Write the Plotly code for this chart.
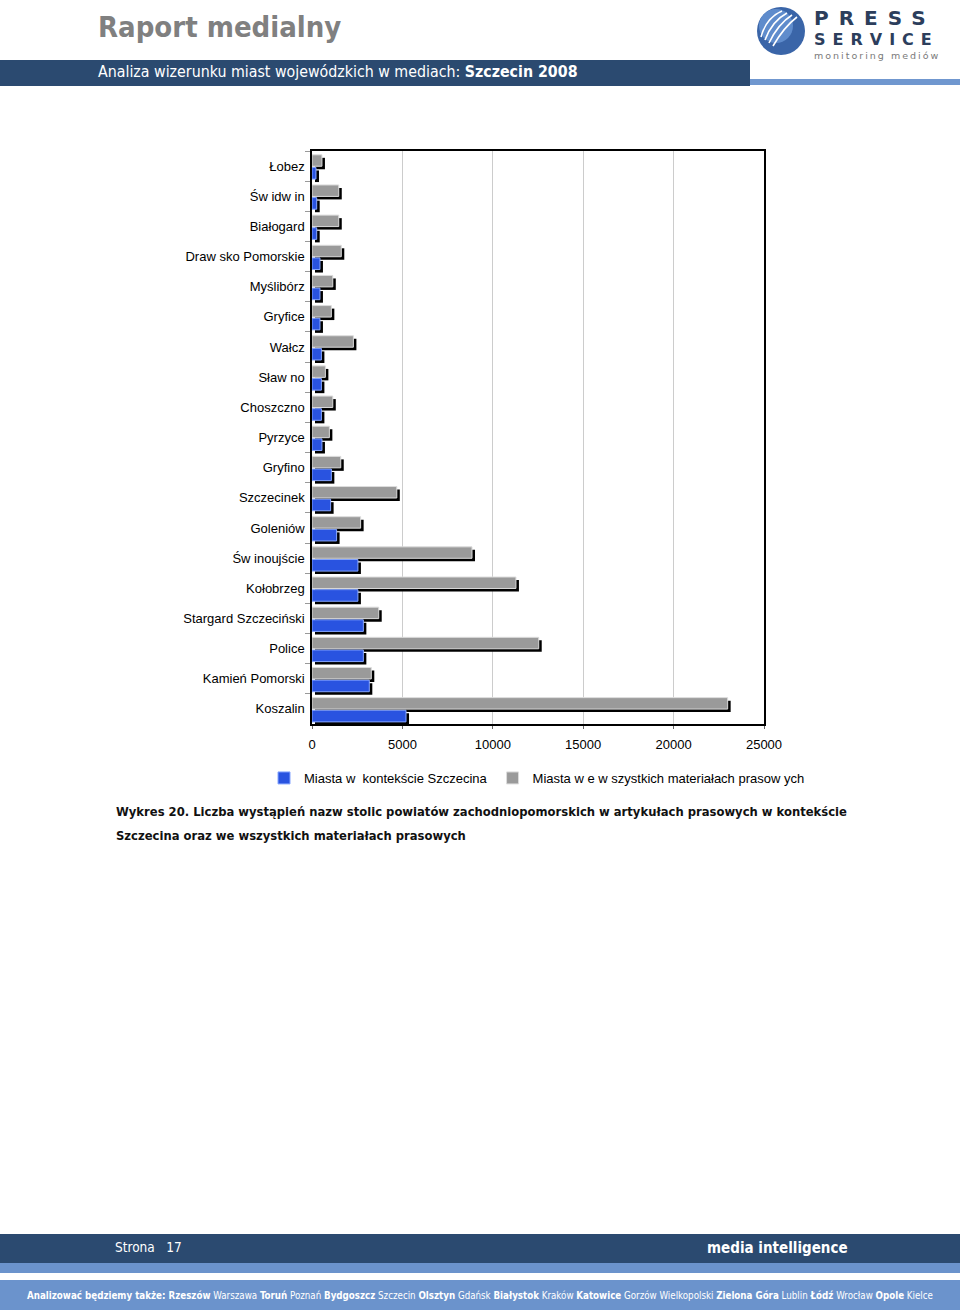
import plotly.graph_objects as go

# ---------------- data ----------------
cities = ["Łobez", "Św idw in", "Białogard", "Draw sko Pomorskie", "Myślibórz", "Gryfice",
          "Wałcz", "Sław no", "Choszczno", "Pyrzyce", "Gryfino", "Szczecinek", "Goleniów",
          "Św inoujście", "Kołobrzeg", "Stargard Szczeciński", "Police", "Kamień Pomorski",
          "Koszalin"]
szczecin_context = [220, 260, 260, 440, 440, 440, 520, 520, 520, 550, 1070, 1030, 1360,
                    2540, 2540, 2840, 2840, 3170, 5200]
all_materials = [550, 1480, 1480, 1620, 1150, 1070, 2290, 740, 1150, 960, 1590, 4690, 2690,
                 8850, 11280, 3690, 12540, 3280, 22990]
x_ticks = [0, 5000, 10000, 15000, 20000, 25000]
series_names = ["Miasta w  kontekście Szczecina", "Miasta w e w szystkich materiałach prasow ych"]

# ---------------- geometry helpers ----------------
W, H = 960, 1314
L, R, T, B = 312, 764, 151, 724
def px(x):
    return (x - L) / (R - L)
def py(y):
    return (B - y) / (B - T)

DARK = "#2b4a70"
LIGHT = "#7097cf"
LIGHT2 = "#6b93cc"
FONT = "Liberation Sans"
COND = "DejaVu Sans Condensed"

BLUE = "#2953e0"
GRAY = "#9a9a9a"

fig = go.Figure()

# shadows (drawn behind, on a slightly shifted hidden axis)
fig.add_trace(go.Bar(y=cities, x=szczecin_context, orientation="h", xaxis="x", yaxis="y",
                     marker=dict(color="black", line=dict(width=0)),
                     offset=0.145, width=0.385, showlegend=False, hoverinfo="skip"))
fig.add_trace(go.Bar(y=cities, x=all_materials, orientation="h", xaxis="x", yaxis="y",
                     marker=dict(color="black", line=dict(width=0)),
                     offset=-0.274, width=0.38, showlegend=False, hoverinfo="skip"))
# front bars
fig.add_trace(go.Bar(y=cities, x=szczecin_context, orientation="h", xaxis="x2", yaxis="y",
                     name=series_names[0],
                     marker=dict(color=BLUE, line=dict(width=1, color="#86a6ff")),
                     offset=0.045, width=0.385))
fig.add_trace(go.Bar(y=cities, x=all_materials, orientation="h", xaxis="x2", yaxis="y",
                     name=series_names[1],
                     marker=dict(color=GRAY, line=dict(width=1, color="#dcdcdc")),
                     offset=-0.374, width=0.38))

shapes = []
# header bars
shapes.append(dict(type="rect", xref="paper", yref="paper", x0=px(0), x1=px(750),
                   y0=py(86), y1=py(60), fillcolor=DARK, line=dict(width=0), layer="below"))
shapes.append(dict(type="rect", xref="paper", yref="paper", x0=px(750), x1=px(960),
                   y0=py(85), y1=py(79), fillcolor=LIGHT, line=dict(width=0), layer="below"))
# footer bars
shapes.append(dict(type="rect", xref="paper", yref="paper", x0=px(0), x1=px(960),
                   y0=py(1263), y1=py(1234), fillcolor=DARK, line=dict(width=0), layer="below"))
shapes.append(dict(type="rect", xref="paper", yref="paper", x0=px(0), x1=px(960),
                   y0=py(1273), y1=py(1263), fillcolor=LIGHT2, line=dict(width=0), layer="below"))
shapes.append(dict(type="rect", xref="paper", yref="paper", x0=px(0), x1=px(960),
                   y0=py(1310), y1=py(1280), fillcolor=LIGHT2, line=dict(width=0), layer="below"))
# logo sphere
cx, cy, rr = 781, 31, 24
shapes.append(dict(type="circle", xref="paper", yref="paper", x0=px(cx - rr), x1=px(cx + rr),
                   y0=py(cy + rr), y1=py(cy - rr), fillcolor="#3a65a8", line=dict(width=0)))
shapes.append(dict(type="circle", xref="paper", yref="paper", x0=px(cx - rr + 2), x1=px(cx + rr - 12),
                   y0=py(cy + rr - 12), y1=py(cy - rr + 2), fillcolor="#5f8ccc", line=dict(width=0)))
for k in range(4):
    x0s, y0s = 761 + 4 * k, 37 + 3 * k
    x1s, y1s = 782 + 5 * k, 11 + 2 * k
    cxs, cys = 766 + 6 * k, 18 + 3 * k
    shapes.append(dict(type="path", xref="paper", yref="paper",
                       path=f"M {px(x0s)},{py(y0s)} Q {px(cxs)},{py(cys)} {px(x1s)},{py(y1s)}",
                       line=dict(color="white", width=1.6)))

annotations = []
def ann(text, x, y, size, color, family=COND, xanchor="left", bold=False, align="left"):
    annotations.append(dict(text=(f"<b>{text}</b>" if bold else text), x=px(x), y=py(y),
                            xref="paper", yref="paper", xanchor=xanchor, yanchor="middle",
                            align=align, showarrow=False,
                            font=dict(size=size, color=color, family=family)))

ann("Raport medialny", 96, 27, 29, "#808080", bold=True)
ann("Analiza wizerunku miast wojewódzkich w mediach: <b>Szczecin 2008</b>", 96, 71, 15.8, "white")
ann("<span style='letter-spacing:10px'>PRESS</span>", 812, 18, 20, "#2c3e5c",
    family="DejaVu Sans", bold=True)
ann("<span style='letter-spacing:7px'>SERVICE</span>", 812, 39.5, 16, "#2c3e5c",
    family="DejaVu Sans", bold=True)
ann("<span style='letter-spacing:2px'>monitoring mediów</span>", 812, 55, 9.5, "#7a7a7a",
    family="DejaVu Sans")

ann("Wykres 20. Liczba wystąpień nazw stolic powiatów zachodniopomorskich w artykułach prasowych w kontekście",
    114, 812, 11.6, "#111111", family="DejaVu Sans", bold=True)
ann("Szczecina oraz we wszystkich materiałach prasowych", 114, 836, 11.6, "#111111",
    family="DejaVu Sans", bold=True)

ann("Strona   17", 113, 1247, 13.5, "white")
ann("media intelligence", 850, 1248, 15, "white", xanchor="right", bold=True)
ann("<b>Analizować będziemy także: Rzeszów</b> Warszawa <b>Toruń</b> Poznań <b>Bydgoszcz</b> "
    "Szczecin <b>Olsztyn</b> Gdańsk <b>Białystok</b> Kraków <b>Katowice</b> Gorzów Wielkopolski "
    "<b>Zielona Góra</b> Lublin <b>Łódź</b> Wrocław <b>Opole</b> Kielce",
    480, 1295, 9.7, "white", xanchor="center")

fig.update_layout(
    width=W, height=H,
    margin=dict(l=L, r=W - R, t=T, b=H - B, pad=0),
    paper_bgcolor="white", plot_bgcolor="white",
    barmode="overlay",
    font=dict(family=FONT, size=13, color="#000000"),
    xaxis=dict(range=[-166, 25000 - 166], visible=False, fixedrange=True),
    xaxis2=dict(overlaying="x", side="bottom", anchor="y", range=[0, 25000],
                tickmode="array", tickvals=x_ticks, ticktext=[str(v) for v in x_ticks],
                showgrid=True, gridcolor="#cccccc", gridwidth=1,
                showline=True, linecolor="black", linewidth=1.5, mirror=True,
                ticks="outside", ticklen=3, tickcolor="#666666", ticklabelstandoff=5,
                tickfont=dict(family=FONT, size=13, color="#000000"), zeroline=False),
    yaxis=dict(range=[18.5, -0.5], showline=True, linecolor="black", linewidth=1.5, mirror=True,
               ticks="outside", tickson="boundaries", ticklen=5, tickcolor="#999999",
               showgrid=False, ticklabelstandoff=3,
               tickfont=dict(family=FONT, size=13, color="#000000")),
    legend=dict(orientation="h", x=px(264), xanchor="left", y=py(778), yanchor="middle",
                font=dict(family=FONT, size=13, color="#000000"), itemwidth=30,
                bgcolor="rgba(0,0,0,0)"),
    shapes=shapes, annotations=annotations,
)

fig.write_html("out.html", config={"displayModeBar": False},
               post_script="document.body.style.margin='0';")
